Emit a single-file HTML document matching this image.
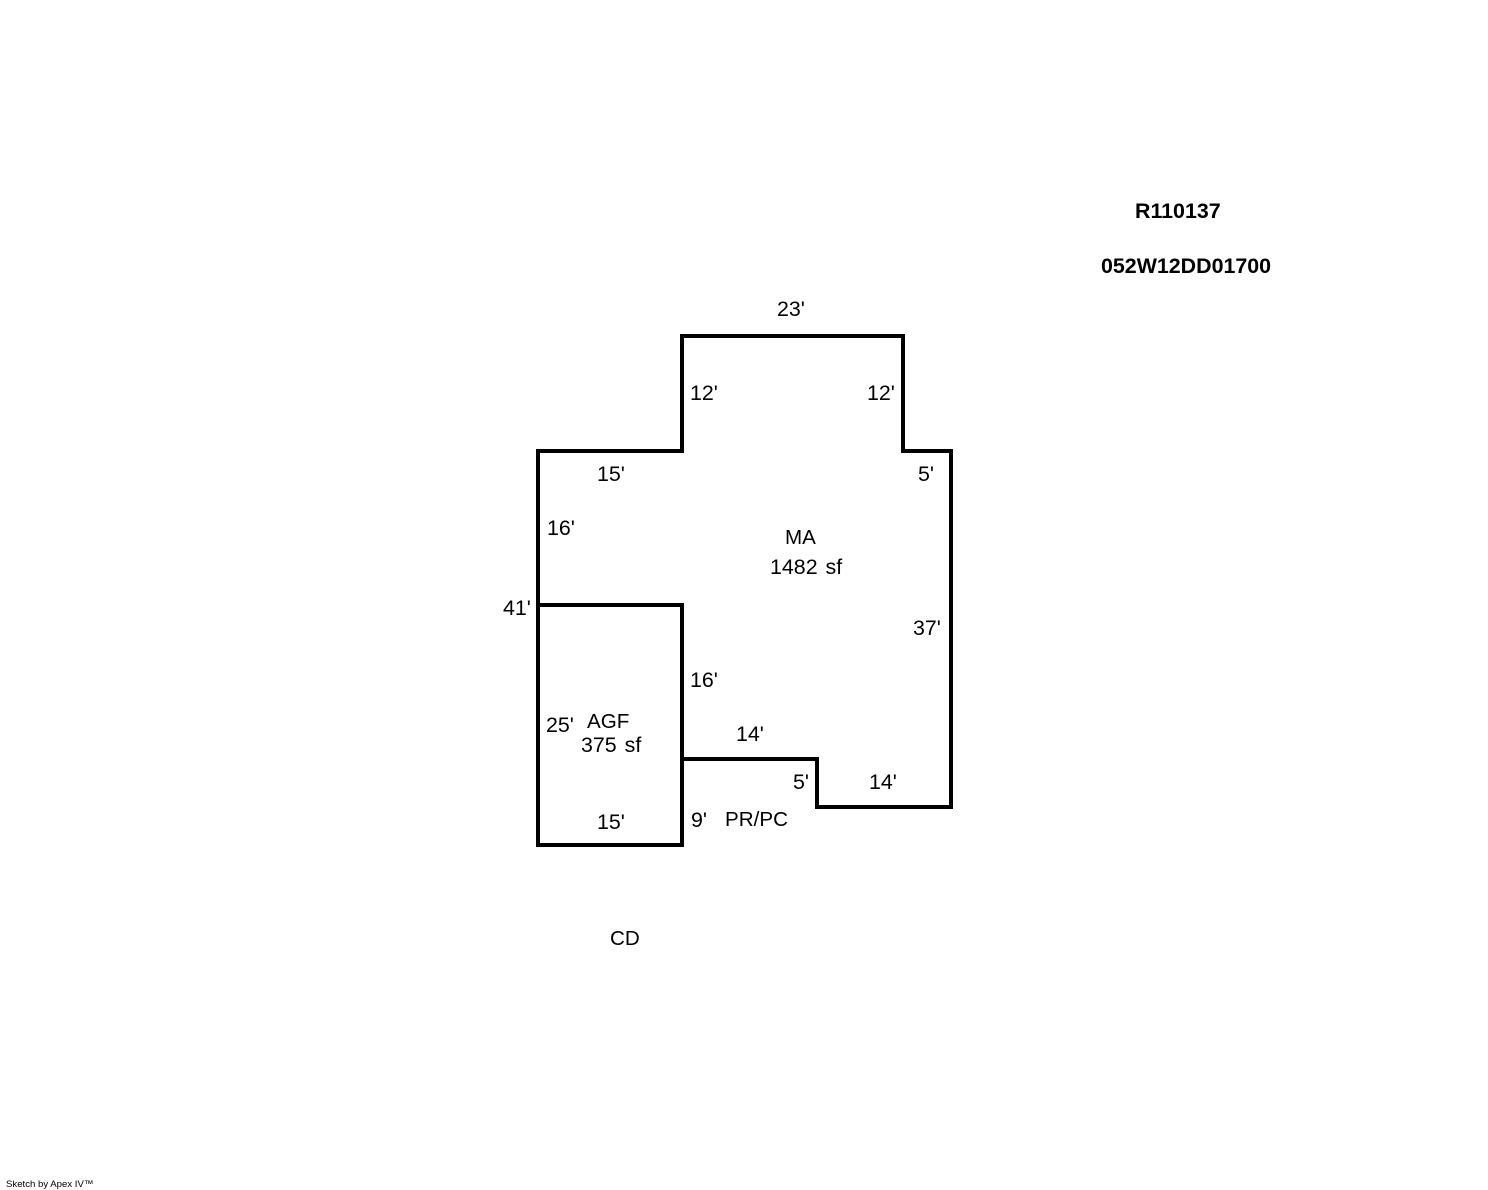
<!DOCTYPE html>
<html>
<head>
<meta charset="utf-8">
<style>
html,body{margin:0;padding:0;background:#fff;width:1488px;height:1190px;overflow:hidden}
svg{display:block}
text{font-family:"Liberation Sans",Arial,sans-serif;font-size:21.4px;fill:#000}
.b{font-weight:bold}
.s{font-size:9.6px}
.n{font-size:20.6px}
.w{word-spacing:2px}
</style>
</head>
<body>
<svg width="1488" height="1190" viewBox="0 0 1488 1190" xmlns="http://www.w3.org/2000/svg">
<rect width="1488" height="1190" fill="#fff"/>
<g fill="none" stroke="#000" stroke-width="4" stroke-linejoin="miter" stroke-linecap="square">
<path d="M538 451H682V336H903V451H951V807H817V759H682"/>
<path d="M538 451V845H682V605H538"/>
</g>
<text class="b" x="1135" y="218">R110137</text>
<text class="b" x="1101" y="273">052W12DD01700</text>
<text x="777" y="316">23'</text>
<text x="690" y="400">12'</text>
<text x="867" y="400">12'</text>
<text x="597" y="481">15'</text>
<text x="918" y="481">5'</text>
<text x="547" y="535">16'</text>
<text class="n" x="785" y="544">MA</text>
<text class="w" x="770" y="574">1482 sf</text>
<text x="503" y="615">41'</text>
<text x="913" y="635">37'</text>
<text x="690" y="687">16'</text>
<text x="546" y="732">25'</text>
<text class="n" x="587" y="728">AGF</text>
<text class="w" x="581" y="752">375 sf</text>
<text x="736" y="741">14'</text>
<text x="793" y="789">5'</text>
<text x="869" y="789">14'</text>
<text x="597" y="829">15'</text>
<text x="691" y="827">9'</text>
<text class="n" x="725" y="826">PR/PC</text>
<text class="n" x="610" y="945">CD</text>
<text class="s" x="6" y="1187">Sketch by Apex IV™</text>
</svg>
</body>
</html>
